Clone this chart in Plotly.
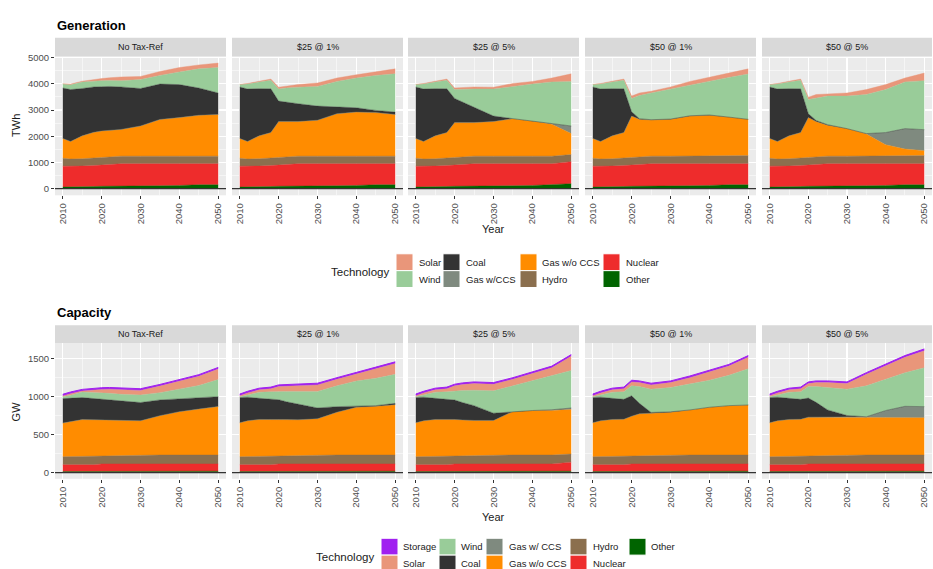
import plotly.graph_objects as go

# ---------------- data ----------------
years = [2010, 2012, 2015, 2018, 2020, 2022, 2025, 2030, 2035, 2040, 2045, 2050]
scenarios = ["No Tax-Ref", "$25 @ 1%", "$25 @ 5%", "$50 @ 1%", "$50 @ 5%"]

# Generation (TWh), per technology, per scenario
gen_other = {
    "No Tax-Ref": [60, 60, 70, 80, 90, 90, 100, 100, 110, 120, 150, 150],
    "$25 @ 1%":   [60, 60, 70, 80, 90, 90, 100, 100, 110, 120, 150, 150],
    "$25 @ 5%":   [60, 60, 70, 80, 90, 90, 100, 100, 110, 120, 150, 190],
    "$50 @ 1%":   [60, 60, 70, 80, 90, 90, 100, 100, 110, 120, 150, 150],
    "$50 @ 5%":   [60, 60, 70, 80, 90, 90, 100, 100, 110, 120, 150, 150],
}
gen_nuclear = {
    "No Tax-Ref": [796, 790, 790, 800, 810, 830, 850, 850, 840, 830, 800, 800],
    "$25 @ 1%":   [796, 790, 790, 800, 810, 830, 850, 850, 840, 830, 800, 800],
    "$25 @ 5%":   [796, 790, 790, 800, 810, 830, 850, 850, 840, 830, 800, 840],
    "$50 @ 1%":   [796, 790, 790, 800, 810, 830, 850, 850, 840, 830, 800, 800],
    "$50 @ 5%":   [796, 790, 790, 800, 810, 830, 850, 850, 840, 830, 800, 800],
}
gen_hydro = {
    "No Tax-Ref": [304, 280, 280, 290, 300, 300, 290, 290, 290, 290, 290, 290],
    "$25 @ 1%":   [304, 280, 280, 290, 300, 300, 290, 290, 290, 290, 290, 290],
    "$25 @ 5%":   [304, 280, 280, 290, 300, 300, 290, 290, 290, 290, 290, 270],
    "$50 @ 1%":   [304, 280, 280, 290, 300, 300, 290, 290, 290, 290, 290, 310],
    "$50 @ 5%":   [304, 280, 280, 290, 300, 300, 290, 290, 290, 290, 290, 310],
}
gen_gas = {
    "No Tax-Ref": [755, 670, 875, 980, 1000, 1010, 1020, 1150, 1400, 1470, 1560, 1590],
    "$25 @ 1%":   [755, 670, 875, 970, 1360, 1340, 1320, 1370, 1620, 1680, 1660, 1590],
    "$25 @ 5%":   [755, 670, 875, 970, 1320, 1300, 1280, 1320, 1430, 1340, 1215, 800],
    "$50 @ 1%":   [755, 670, 875, 970, 1570, 1425, 1380, 1405, 1530, 1560, 1490, 1385],
    "$50 @ 5%":   [755, 670, 875, 970, 1510, 1340, 1180, 1050, 840, 435, 270, 190],
}
gen_ccs = {
    "No Tax-Ref": [0, 0, 0, 0, 0, 0, 0, 0, 0, 0, 0, 0],
    "$25 @ 1%":   [0, 0, 0, 0, 0, 0, 0, 0, 0, 0, 0, 0],
    "$25 @ 5%":   [0, 0, 0, 0, 0, 0, 0, 0, 0, 0, 20, 290],
    "$50 @ 1%":   [0, 0, 0, 0, 0, 0, 0, 0, 0, 0, 0, 0],
    "$50 @ 5%":   [0, 0, 0, 0, 0, 0, 0, 0, 20, 465, 780, 800],
}
gen_coal = {
    "No Tax-Ref": [1925, 1980, 1805, 1730, 1690, 1670, 1620, 1430, 1350, 1260, 1040, 820],
    "$25 @ 1%":   [1965, 2000, 1800, 1670, 780, 730, 680, 540, 250, 165, 85, 90],
    "$25 @ 5%":   [1965, 2000, 1800, 1670, 920, 780, 590, 210, 0, 0, 0, 0],
    "$50 @ 1%":   [1965, 2000, 1800, 1670, 160, 25, 10, 10, 10, 10, 0, 0],
    "$50 @ 5%":   [1965, 2000, 1800, 1670, 150, 40, 20, 0, 0, 0, 0, 0],
}
gen_wind = {
    "No Tax-Ref": [150, 180, 250, 230, 230, 230, 240, 340, 330, 480, 730, 970],
    "$25 @ 1%":   [90, 190, 255, 330, 460, 550, 630, 750, 980, 1135, 1335, 1460],
    "$25 @ 5%":   [90, 190, 255, 330, 340, 490, 690, 1030, 1230, 1410, 1595, 1700],
    "$50 @ 1%":   [90, 190, 255, 330, 510, 880, 1020, 1145, 1190, 1310, 1515, 1725],
    "$50 @ 5%":   [90, 190, 255, 330, 540, 860, 1090, 1240, 1490, 1640, 1780, 1870],
}
gen_solar = {
    "No Tax-Ref": [10, 30, 30, 60, 80, 100, 140, 120, 150, 170, 150, 170],
    "$25 @ 1%":   [10, 20, 30, 40, 70, 80, 100, 130, 130, 125, 150, 190],
    "$25 @ 5%":   [10, 20, 30, 40, 60, 70, 80, 70, 110, 100, 150, 290],
    "$50 @ 1%":   [10, 20, 30, 40, 90, 100, 65, 80, 120, 140, 165, 200],
    "$50 @ 5%":   [10, 20, 30, 40, 90, 130, 85, 120, 190, 190, 150, 290],
}

# Capacity (GW), per technology, per scenario
cap_other = {s: [15, 15, 15, 15, 20, 20, 20, 20, 20, 20, 20, 20] for s in scenarios}
cap_nuclear = {
    "No Tax-Ref": [90, 90, 90, 90, 95, 95, 95, 95, 95, 95, 95, 95],
    "$25 @ 1%":   [90, 90, 90, 90, 95, 95, 95, 95, 95, 95, 95, 95],
    "$25 @ 5%":   [90, 90, 90, 90, 95, 95, 95, 95, 95, 95, 95, 118],
    "$50 @ 1%":   [90, 90, 90, 90, 95, 95, 95, 95, 95, 95, 95, 95],
    "$50 @ 5%":   [90, 90, 90, 90, 95, 95, 95, 95, 95, 95, 95, 95],
}
cap_hydro = {
    "No Tax-Ref": [105, 107, 110, 113, 107, 110, 113, 117, 117, 117, 117, 117],
    "$25 @ 1%":   [105, 107, 110, 113, 107, 110, 113, 117, 117, 117, 117, 117],
    "$25 @ 5%":   [105, 107, 110, 113, 107, 110, 113, 117, 117, 117, 117, 107],
    "$50 @ 1%":   [105, 107, 110, 113, 107, 110, 113, 117, 117, 117, 117, 117],
    "$50 @ 5%":   [105, 107, 110, 113, 107, 110, 113, 117, 117, 117, 117, 117],
}
cap_gas = {
    "No Tax-Ref": [440, 458, 481, 476, 470, 463, 452, 448, 516, 568, 602, 636],
    "$25 @ 1%":   [445, 468, 483, 482, 476, 471, 466, 475, 561, 626, 638, 660],
    "$25 @ 5%":   [445, 468, 483, 482, 476, 467, 457, 453, 570, 583, 583, 583],
    "$50 @ 1%":   [445, 468, 483, 482, 519, 547, 552, 561, 591, 626, 647, 656],
    "$50 @ 5%":   [445, 468, 483, 482, 506, 503, 500, 496, 496, 493, 488, 488],
}
cap_ccs = {
    "No Tax-Ref": [0, 0, 0, 0, 0, 0, 0, 0, 0, 0, 0, 0],
    "$25 @ 1%":   [0, 0, 0, 0, 0, 0, 0, 0, 0, 0, 0, 0],
    "$25 @ 5%":   [0, 0, 0, 0, 0, 0, 0, 0, 0, 0, 10, 20],
    "$50 @ 1%":   [0, 0, 0, 0, 0, 0, 0, 0, 0, 0, 0, 0],
    "$50 @ 5%":   [0, 0, 0, 0, 0, 0, 0, 0, 5, 90, 150, 146],
}
cap_coal = {
    "No Tax-Ref": [321, 310, 288, 278, 270, 267, 261, 240, 206, 171, 150, 129],
    "$25 @ 1%":   [332, 310, 277, 262, 259, 234, 207, 142, 73, 12, 9, 17],
    "$25 @ 5%":   [332, 310, 277, 262, 255, 228, 194, 95, 0, 0, 0, 0],
    "$50 @ 1%":   [332, 310, 277, 262, 268, 137, 10, 5, 0, 0, 0, 0],
    "$50 @ 5%":   [332, 310, 277, 262, 250, 194, 95, 22, 0, 0, 0, 0],
}
cap_wind = {
    "No Tax-Ref": [26, 34, 73, 80, 87, 85, 86, 98, 95, 121, 159, 223],
    "$25 @ 1%":   [9, 30, 80, 98, 108, 135, 164, 216, 272, 333, 358, 380],
    "$25 @ 5%":   [9, 30, 80, 98, 120, 158, 203, 293, 336, 388, 442, 492],
    "$50 @ 1%":   [9, 30, 80, 98, 129, 220, 305, 318, 336, 353, 397, 474],
    "$50 @ 5%":   [9, 30, 80, 98, 151, 207, 293, 345, 405, 409, 440, 509],
}
cap_solar = {
    "No Tax-Ref": [9, 22, 13, 33, 43, 55, 65, 61, 86, 107, 120, 138],
    "$25 @ 1%":   [13, 25, 31, 40, 64, 68, 73, 86, 86, 86, 125, 142],
    "$25 @ 5%":   [13, 25, 31, 40, 65, 77, 86, 86, 86, 99, 108, 186],
    "$50 @ 1%":   [13, 25, 31, 40, 52, 52, 56, 65, 87, 112, 121, 151],
    "$50 @ 5%":   [13, 25, 31, 40, 39, 52, 65, 73, 151, 173, 203, 225],
}
cap_storage = {s: [22, 22, 22, 22, 22, 22, 22, 22, 22, 22, 22, 22] for s in scenarios}

gen_ticks = [0, 1000, 2000, 3000, 4000, 5000]
cap_ticks = [0, 500, 1000, 1500]
x_ticks = [2010, 2020, 2030, 2040, 2050]

# ---------------- styling ----------------
colors = {
    "Storage": "#A020F0", "Solar": "#E9967A", "Wind": "#99CC99", "Coal": "#333333",
    "Gas w/CCS": "#7F8A7F", "Gas w/o CCS": "#FF8C00", "Hydro": "#8B6F4E",
    "Nuclear": "#EE2C2C", "Other": "#006400",
}
gen_stack = [("Other", gen_other), ("Nuclear", gen_nuclear), ("Hydro", gen_hydro),
             ("Gas w/o CCS", gen_gas), ("Gas w/CCS", gen_ccs), ("Coal", gen_coal),
             ("Wind", gen_wind), ("Solar", gen_solar)]
cap_stack = [("Other", cap_other), ("Nuclear", cap_nuclear), ("Hydro", cap_hydro),
             ("Gas w/o CCS", cap_gas), ("Gas w/CCS", cap_ccs), ("Coal", cap_coal),
             ("Wind", cap_wind), ("Solar", cap_solar), ("Storage", cap_storage)]

W, H = 933, 569
FONT = "Liberation Sans, Arial, sans-serif"
panel_x = [(55, 226), (232, 403), (408, 579), (585, 756), (762, 932)]
blocks = [
    dict(stack=gen_stack, plot_y=(52, 192), strip_y=(33, 52), yrange=[-255, 5040],
         ticks=gen_ticks, minor=500),
    dict(stack=cap_stack, plot_y=(341, 478), strip_y=(323, 341), yrange=[-80, 1700],
         ticks=cap_ticks, minor=250),
]


def px(x):
    return x / W


def py(y):
    return 1 - y / H


fig = go.Figure()
shapes, annotations = [], []
layout = {}

for b, blk in enumerate(blocks):
    for c, scen in enumerate(scenarios):
        n = b * 5 + c + 1
        xs = "x" if n == 1 else f"x{n}"
        ys = "y" if n == 1 else f"y{n}"
        for tech, data in blk["stack"]:
            col = colors[tech]
            fig.add_trace(go.Scatter(
                x=years, y=data[scen], xaxis=xs, yaxis=ys, stackgroup=f"s{n}",
                mode="lines", line=dict(width=1 if tech == "Storage" else 0.4, color=col),
                fillcolor=col, showlegend=False, hoverinfo="skip", name=tech))
        x0, x1 = panel_x[c]
        y0, y1 = blk["plot_y"]
        layout["xaxis" if n == 1 else f"xaxis{n}"] = dict(
            domain=[px(x0), px(x1)], anchor=ys, range=[2008, 2052],
            tickmode="array", tickvals=x_ticks, ticktext=[str(t) for t in x_ticks],
            tickangle=-90, ticks="outside", ticklen=3, tickwidth=1, tickcolor="#333333",
            tickfont=dict(size=9.5, color="#4D4D4D", family=FONT),
            showgrid=True, gridcolor="white", gridwidth=1.1, zeroline=False, showline=False,
            minor=dict(dtick=5, tick0=2010, showgrid=True, gridcolor="white", gridwidth=0.5),
            fixedrange=True)
        layout["yaxis" if n == 1 else f"yaxis{n}"] = dict(
            domain=[py(y1), py(y0)], anchor=xs, range=blk["yrange"],
            tickmode="array", tickvals=blk["ticks"], ticktext=[str(t) for t in blk["ticks"]],
            showticklabels=(c == 0), ticks="outside" if c == 0 else "", ticklen=3,
            tickwidth=1, tickcolor="#333333",
            tickfont=dict(size=9.5, color="#4D4D4D", family=FONT),
            showgrid=True, gridcolor="white", gridwidth=1.1, zeroline=False, showline=False,
            minor=dict(dtick=blk["minor"], tick0=0, showgrid=True, gridcolor="white", gridwidth=0.5),
            fixedrange=True)
        # zero baseline
        shapes.append(dict(type="line", xref=f"{xs} domain", yref=ys, x0=0, x1=1, y0=0, y1=0,
                           line=dict(color="#333333", width=1.2)))
        # strip
        sy0, sy1 = blk["strip_y"]
        shapes.append(dict(type="rect", xref="paper", yref="paper", x0=px(x0), x1=px(x1),
                           y0=py(sy1), y1=py(sy0), fillcolor="#D9D9D9", line=dict(width=0),
                           layer="below"))
        annotations.append(dict(text=scen, xref="paper", yref="paper",
                                x=px((x0 + x1) / 2), y=py((sy0 + sy1) / 2),
                                showarrow=False, xanchor="center", yanchor="middle",
                                font=dict(size=9, color="#1A1A1A", family=FONT)))

# titles and axis titles
for txt, y in [("Generation", 21), ("Capacity", 310)]:
    annotations.append(dict(text=f"<b>{txt}</b>", xref="paper", yref="paper", x=px(55), y=py(y),
                            showarrow=False, xanchor="left", yanchor="middle",
                            font=dict(size=13, color="black", family=FONT)))
for txt, y in [("TWh", 122), ("GW", 410)]:
    annotations.append(dict(text=txt, xref="paper", yref="paper", x=px(16), y=py(y),
                            showarrow=False, xanchor="center", yanchor="middle", textangle=-90,
                            font=dict(size=11, color="#1A1A1A", family=FONT)))
for y in [226, 517]:
    annotations.append(dict(text="Year", xref="paper", yref="paper", x=px(493), y=py(y),
                            showarrow=False, xanchor="center", yanchor="middle",
                            font=dict(size=11, color="#1A1A1A", family=FONT)))

# legends
gen_legend = [
    [("Solar", 396, 417, 0), ("Wind", 396, 417, 1)],
    [("Coal", 443, 464, 0), ("Gas w/CCS", 443, 464, 1)],
    [("Gas w/o CCS", 520, 540, 0), ("Hydro", 520, 540, 1)],
    [("Nuclear", 603, 624, 0), ("Other", 603, 624, 1)],
]
cap_legend = [
    [("Storage", 381, 401, 0), ("Solar", 381, 401, 1)],
    [("Wind", 439, 459, 0), ("Coal", 439, 459, 1)],
    [("Gas w/ CCS", 486, 507, 0), ("Gas w/o CCS", 486, 507, 1)],
    [("Hydro", 570, 591, 0), ("Nuclear", 570, 591, 1)],
    [("Other", 629, 649, 0)],
]
for legend, row_top, title_x, title_y in [(gen_legend, 251, 329, 269), (cap_legend, 538, 314, 557)]:
    annotations.append(dict(text="Technology", xref="paper", yref="paper", x=px(title_x),
                            y=py(title_y), showarrow=False, xanchor="left", yanchor="middle",
                            font=dict(size=11.5, color="#1A1A1A", family=FONT)))
    for col in legend:
        for label, kx, tx, r in col:
            ky0 = row_top + r * 17
            key = "Gas w/CCS" if label == "Gas w/ CCS" else label
            shapes.append(dict(type="rect", xref="paper", yref="paper", x0=px(kx), x1=px(kx + 17),
                               y0=py(ky0 + 17), y1=py(ky0), fillcolor=colors[key],
                               line=dict(color="white", width=1)))
            annotations.append(dict(text=label, xref="paper", yref="paper", x=px(tx),
                                    y=py(ky0 + 8.5), showarrow=False, xanchor="left",
                                    yanchor="middle",
                                    font=dict(size=9.5, color="#1A1A1A", family=FONT)))

fig.update_layout(
    width=W, height=H, autosize=False, margin=dict(l=0, r=0, t=0, b=0),
    paper_bgcolor="white", plot_bgcolor="#EBEBEB", showlegend=False,
    shapes=shapes, annotations=annotations, font=dict(family=FONT), **layout)

fig.write_html("out.html", config={"displayModeBar": False, "staticPlot": True})

# remove the default page margin so the figure sits at the window's top-left corner
with open("out.html", "r", encoding="utf-8") as f:
    page = f.read()
page = page.replace("<head>", "<head><style>html,body{margin:0;padding:0;overflow:hidden;}</style>", 1)
with open("out.html", "w", encoding="utf-8") as f:
    f.write(page)
